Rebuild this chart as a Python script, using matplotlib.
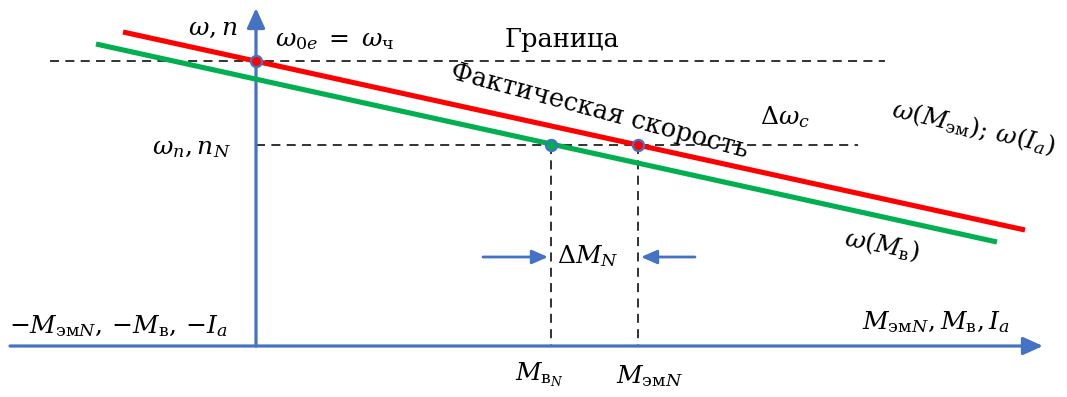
import matplotlib
matplotlib.use("Agg")
import matplotlib.pyplot as plt

plt.rcParams['mathtext.fontset'] = 'dejavuserif'
plt.rcParams['font.family'] = ['DejaVu Serif']

# characteristic lines (torque axis, speed axis), origin at axes cross
red_x = [-133, 769]
red_y = [314, 116]
green_x = [-160, 741]
green_y = [302, 104]

w0 = 285          # ideal no-load speed
wN = 201          # nominal speed
M_vN = 295        # nominal shaft torque
M_emN = 382       # nominal electromagnetic torque

x_axis = [-246, 787]
y_axis = [0, 338]

blue = '#4472C4'
red = '#FF0000'
green = '#00B050'

fig = plt.figure(figsize=(10.67, 3.97), dpi=100)
ax = fig.add_axes([0, 0, 1, 1])
ax.set_xlim(-256, 811)
ax.set_ylim(-51, 346)
ax.axis('off')

# axes with arrows
arr = dict(arrowstyle='-|>,head_length=1.0,head_width=0.45', color=blue, lw=2.3,
           mutation_scale=12, shrinkA=0, shrinkB=0)
ax.annotate('', xy=(x_axis[1], 0), xytext=(x_axis[0], 0), arrowprops=arr)
ax.annotate('', xy=(0, y_axis[1]), xytext=(0, y_axis[0]), arrowprops=arr)

# dashed guides
ds = (0, (5, 3.5))
ax.plot([-206, 629], [w0, w0], color='#222222', lw=1.3, ls=ds)
ax.plot([0, 602], [wN, wN], color='#222222', lw=1.3, ls=ds)
ax.plot([M_vN, M_vN], [wN, 0], color='#222222', lw=1.3, ls=ds)
ax.plot([M_emN, M_emN], [wN, 0], color='#222222', lw=1.3, ls=ds)

# characteristics
ax.plot(red_x, red_y, color=red, lw=3.7, solid_capstyle='butt', zorder=3)
ax.plot(green_x, green_y, color=green, lw=3.7, solid_capstyle='butt', zorder=3)

# points
ax.plot([0], [w0], 'o', ms=8, mfc=red, mec=blue, mew=1.6, zorder=5)
ax.plot([M_emN], [wN], 'o', ms=8, mfc=red, mec=blue, mew=1.6, zorder=5)
ax.plot([M_vN], [wN], 'o', ms=8, mfc=green, mec=blue, mew=1.6, zorder=5)

# delta M arrows
small = dict(arrowstyle='-|>,head_length=0.8,head_width=0.35', color=blue, lw=2.0,
             mutation_scale=12, shrinkA=0, shrinkB=0)
ax.annotate('', xy=(292, 89), xytext=(227, 89), arrowprops=small)
ax.annotate('', xy=(385, 89), xytext=(439, 89), arrowprops=small)

fs = 18
ax.text(-43, 318, r'$\omega, n$', fontsize=fs, ha='center', va='center')
ax.text(19, 306, r'$\omega_{0e}\;=\;\omega_{\mathrm{ч}}$', fontsize=fs, ha='left', va='center')
ax.text(306, 306, 'Граница', fontsize=18.5, ha='center', va='center')
ax.text(344, 235, 'Фактическая скорость', fontsize=18.5, ha='center', va='center',
        rotation=-15, rotation_mode='anchor')
ax.text(529, 229, r'$\Delta\omega_c$', fontsize=fs, ha='center', va='center')
ax.text(718, 218, r'$\omega(M_{\mathrm{эм}});\, \omega(I_a)$', fontsize=fs, ha='center',
        va='center', rotation=-13, rotation_mode='anchor')
ax.text(-25, 198, r'$\omega_n, n_N$', fontsize=fs, ha='right', va='center')
ax.text(626, 101, r'$\omega(M_{\mathrm{в}})$', fontsize=fs, ha='center', va='center',
        rotation=-11, rotation_mode='anchor')
ax.text(332, 90, r'$\Delta M_N$', fontsize=fs, ha='center', va='center')
ax.text(-247, 20, r'${-}M_{\mathrm{эм}N},\, {-}M_{\mathrm{в}},\, {-}I_a$', fontsize=fs,
        ha='left', va='center')
ax.text(606, 24, r'$M_{\mathrm{эм}N}, M_{\mathrm{в}}, I_a$', fontsize=fs,
        ha='left', va='center')
ax.text(284, -29, r'$M_{\mathrm{в}_N}$', fontsize=fs, ha='center', va='center')
ax.text(394, -30, r'$M_{\mathrm{эм}N}$', fontsize=fs, ha='center', va='center')

fig.savefig('out.png', dpi=100)
